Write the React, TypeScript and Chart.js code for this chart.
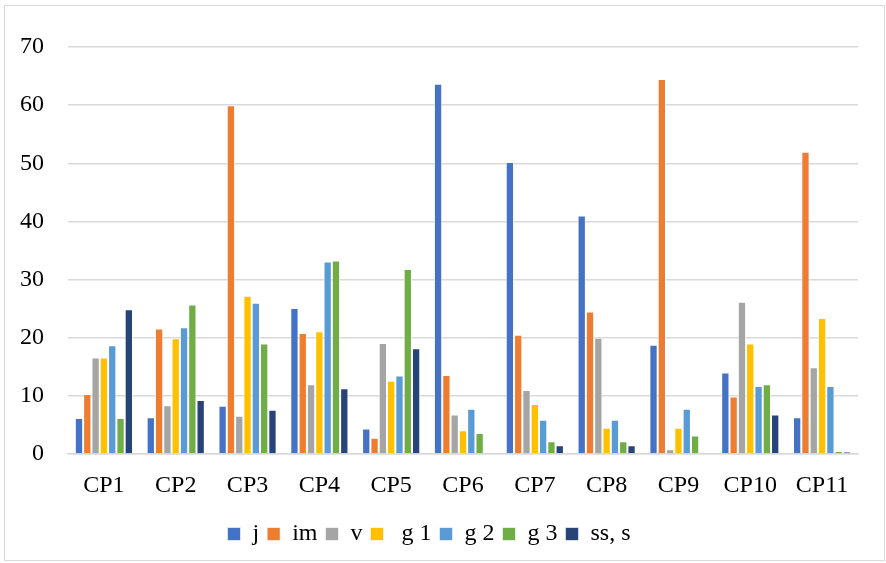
import React, { useEffect, useRef } from "react";
import { Chart, registerables } from "chart.js";

Chart.register(...registerables);

const categories = ["CP1", "CP2", "CP3", "CP4", "CP5", "CP6", "CP7", "CP8", "CP9", "CP10", "CP11"];

const seriesNames = ["j", "im", "v", " g 1", "g 2", "g 3", "ss, s"];

const jValues = [6.2, 6.3, 8.3, 25.1, 4.4, 63.7, 50.2, 41.0, 18.8, 14.0, 6.3];
const imValues = [10.3, 21.6, 60.0, 20.8, 2.8, 13.6, 20.5, 24.5, 64.5, 9.9, 52.0];
const vValues = [16.6, 8.4, 6.6, 12.0, 19.1, 6.8, 11.0, 20.0, 0.8, 26.2, 14.9];
const g1Values = [16.6, 19.9, 27.2, 21.1, 12.6, 4.1, 8.6, 4.5, 4.5, 19.0, 23.4];
const g2Values = [18.7, 21.8, 26.0, 33.1, 13.5, 7.8, 5.9, 5.9, 7.8, 11.7, 11.7];
const g3Values = [6.2, 25.7, 19.0, 33.3, 31.8, 3.6, 2.2, 2.2, 3.2, 12.0, 0.5];
const ssValues = [24.9, 9.3, 7.6, 11.3, 18.2, 0, 1.5, 1.5, 0, 6.8, 0.35];

const yTicks = [0, 10, 20, 30, 40, 50, 60, 70];

const colors = ["#4472C4", "#ED7D31", "#A5A5A5", "#FFC000", "#5B9BD5", "#70AD47", "#264478"];

const FONT = "'Liberation Serif', 'Times New Roman', serif";

// Thin light frame around the whole chart
const framePlugin = {
  id: "frame",
  beforeDraw(chart: any) {
    const { ctx, width, height } = chart;
    ctx.save();
    ctx.fillStyle = "#ffffff";
    ctx.fillRect(0, 0, width, height);
    ctx.strokeStyle = "#d9d9d9";
    ctx.lineWidth = 1;
    ctx.strokeRect(4.5, 5.5, width - 6, height - 8);
    ctx.restore();
  },
};

export default function App() {
  const ref = useRef<HTMLCanvasElement>(null);

  useEffect(() => {
    document.body.style.margin = "0";
    const allValues = [jValues, imValues, vValues, g1Values, g2Values, g3Values, ssValues];
    const chart = new Chart(ref.current!, {
      type: "bar",
      data: {
        labels: categories,
        datasets: seriesNames.map((name, i) => ({
          label: name,
          data: allValues[i],
          backgroundColor: colors[i],
          borderColor: "rgba(255,255,255,0.6)",
          borderWidth: 1,
          barPercentage: 1,
          categoryPercentage: 0.81,
        })),
      },
      options: {
        animation: false,
        responsive: false,
        maintainAspectRatio: false,
        layout: { padding: { top: 47, right: 28, left: 0, bottom: 7 } },
        plugins: {
          tooltip: { enabled: false },
          legend: {
            position: "bottom",
            labels: {
              boxWidth: 13,
              boxHeight: 13,
              padding: 8,
              color: "#000",
              font: { family: FONT, size: 24 },
            },
          },
        },
        scales: {
          x: {
            afterFit: (scale: any) => {
              scale.height = 60;
            },
            grid: { display: false, drawTicks: false },
            border: { display: true, color: "#d9d9d9", width: 1.5 },
            ticks: { color: "#000", font: { family: FONT, size: 24 }, padding: 17, maxRotation: 0 },
          },
          y: {
            min: 0,
            max: 70,
            afterBuildTicks: (scale: any) => {
              scale.ticks = yTicks.map((v) => ({ value: v }));
            },
            afterFit: (scale: any) => {
              scale.width = 68;
            },
            grid: { color: "#d9d9d9", lineWidth: 1.5, drawTicks: false },
            border: { display: false },
            ticks: { color: "#000", font: { family: FONT, size: 24 }, padding: 24 },
          },
        },
      },
      plugins: [framePlugin],
    });
    return () => chart.destroy();
  }, []);

  return (
    <div style={{ position: "absolute", left: 0, top: 0, width: 886, height: 563 }}>
      <canvas ref={ref} width={886} height={563} style={{ width: 886, height: 563 }} />
    </div>
  );
}
